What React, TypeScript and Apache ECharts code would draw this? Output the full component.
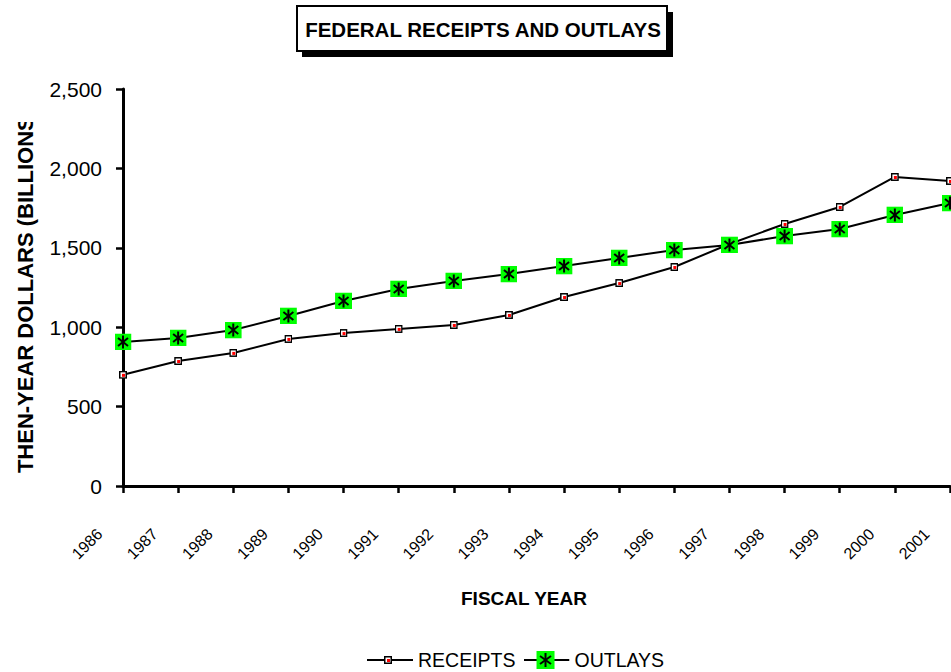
import React, { useEffect, useRef } from "react";
import * as echarts from "echarts";

const years = ["1986","1987","1988","1989","1990","1991","1992","1993","1994","1995","1996","1997","1998","1999","2000","2001"];
const receipts = [700, 787, 838, 926, 963, 989, 1014, 1077, 1190, 1278, 1379, 1524, 1650, 1757, 1946, 1921];
const outlays = [907, 932, 982, 1071, 1165, 1241, 1291, 1335, 1385, 1436, 1486, 1518, 1574, 1618, 1707, 1782];
const yMin = 0;
const yMax = 2500;
const yStep = 500;

const FONT = '"Liberation Sans", Arial, sans-serif';

const svgUrl = (svg: string) => "image://data:image/svg+xml;charset=utf-8," + encodeURIComponent(svg);

const receiptSym = svgUrl(
  "<svg xmlns='http://www.w3.org/2000/svg' width='8' height='8' viewBox='0 0 8 8'>" +
    "<rect x='0.75' y='0.75' width='6.5' height='6.5' fill='white' stroke='black' stroke-width='1.5'/>" +
    "<rect x='3' y='3' width='3' height='3' fill='red'/></svg>"
);
const outlaySym = svgUrl(
  "<svg xmlns='http://www.w3.org/2000/svg' width='17' height='17' viewBox='0 0 17 17'>" +
    "<rect x='0' y='0' width='17' height='17' fill='#00ff00'/>" +
    "<g stroke='black' stroke-width='2' fill='none'>" +
    "<line x1='8.5' y1='2' x2='8.5' y2='15'/>" +
    "<line x1='3.5' y1='4.5' x2='13.5' y2='12.5'/>" +
    "<line x1='13.5' y1='4.5' x2='3.5' y2='12.5'/></g></svg>"
);
const receiptLegend = svgUrl(
  "<svg xmlns='http://www.w3.org/2000/svg' width='46' height='18' viewBox='0 0 46 18'>" +
    "<line x1='0' y1='9' x2='46' y2='9' stroke='black' stroke-width='2'/>" +
    "<rect x='17.75' y='5.75' width='6.5' height='6.5' fill='white' stroke='black' stroke-width='1.5'/>" +
    "<rect x='20' y='8' width='3' height='3' fill='red'/></svg>"
);
const outlayLegend = svgUrl(
  "<svg xmlns='http://www.w3.org/2000/svg' width='46' height='18' viewBox='0 0 46 18'>" +
    "<line x1='0' y1='9' x2='46' y2='9' stroke='black' stroke-width='2'/>" +
    "<rect x='13' y='0' width='18' height='18' fill='#00ff00'/>" +
    "<g stroke='black' stroke-width='2' fill='none'>" +
    "<line x1='22' y1='2' x2='22' y2='16'/>" +
    "<line x1='16.5' y1='5' x2='27.5' y2='13'/>" +
    "<line x1='27.5' y1='5' x2='16.5' y2='13'/></g></svg>"
);

export default function App() {
  const ref = useRef<HTMLDivElement>(null);
  useEffect(() => {
    document.body.style.margin = "0";
    const chart = echarts.init(ref.current!, null, { renderer: "svg" });
    chart.setOption({
      animation: false,
      backgroundColor: "#ffffff",
      grid: { left: 123, right: 1, top: 89, bottom: 186, containLabel: false },
      xAxis: {
        type: "category",
        data: years,
        boundaryGap: false,
        axisLine: { show: true, lineStyle: { color: "#000", width: 3 } },
        axisTick: { show: true, length: 7, lineStyle: { color: "#000", width: 2.5 }, alignWithLabel: true },
        axisLabel: {
          interval: 0,
          rotate: 45,
          margin: 22,
          padding: [0, 33, 0, 0],
          fontSize: 16,
          color: "#000",
          fontFamily: FONT,
        },
        splitLine: { show: false },
      },
      yAxis: {
        type: "value",
        min: yMin,
        max: yMax,
        interval: yStep,
        axisLine: { show: true, lineStyle: { color: "#000", width: 3 } },
        axisTick: { show: true, length: 7, lineStyle: { color: "#000", width: 2.5 } },
        axisLabel: {
          margin: 21,
          fontSize: 21,
          color: "#000",
          fontFamily: FONT,
          formatter: (v: number) => v.toLocaleString("en-US"),
        },
        splitLine: { show: false },
      },
      legend: {
        left: 362,
        top: 645,
        itemWidth: 46,
        itemHeight: 18,
        itemGap: 8,
        textStyle: { fontSize: 19.5, color: "#000", fontFamily: FONT },
        data: [
          { name: "RECEIPTS", icon: receiptLegend },
          { name: "OUTLAYS", icon: outlayLegend },
        ],
      },
      series: [
        {
          name: "RECEIPTS",
          type: "line",
          data: receipts,
          symbol: receiptSym,
          symbolSize: 8,
          showAllSymbol: true,
          lineStyle: { color: "#000", width: 2 },
          itemStyle: { color: "#000" },
          z: 2,
        },
        {
          name: "OUTLAYS",
          type: "line",
          data: outlays,
          symbol: outlaySym,
          symbolSize: 17,
          showAllSymbol: true,
          lineStyle: { color: "#000", width: 2 },
          itemStyle: { color: "#000" },
          z: 3,
        },
      ],
      graphic: [
        { type: "rect", z: 10, shape: { x: 302, y: 12, width: 371, height: 45 }, style: { fill: "#000" } },
        { type: "rect", z: 11, shape: { x: 297, y: 6, width: 370, height: 45 }, style: { fill: "#fff", stroke: "#000", lineWidth: 2 } },
        {
          type: "text", z: 12, x: 483, y: 29,
          style: { text: "FEDERAL RECEIPTS AND OUTLAYS", font: `bold 20.5px ${FONT}`, fill: "#000", align: "center", verticalAlign: "middle", textAlign: "center", textVerticalAlign: "middle" },
        },
        {
          type: "text", z: 12, x: 25, y: 291, rotation: Math.PI / 2,
          style: { text: "THEN-YEAR DOLLARS (BILLIONS)", font: `bold 22px ${FONT}`, fill: "#000", align: "center", verticalAlign: "middle", textAlign: "center", textVerticalAlign: "middle" },
        },
        { type: "rect", z: 13, shape: { x: 0, y: 0, width: 44, height: 122 }, style: { fill: "#fff" } },
        {
          type: "text", z: 12, x: 524, y: 598,
          style: { text: "FISCAL YEAR", font: `bold 19px ${FONT}`, fill: "#000", align: "center", verticalAlign: "middle", textAlign: "center", textVerticalAlign: "middle" },
        },
      ],
    });
    return () => chart.dispose();
  }, []);
  return <div ref={ref} style={{ width: 951, height: 672 }} />;
}
